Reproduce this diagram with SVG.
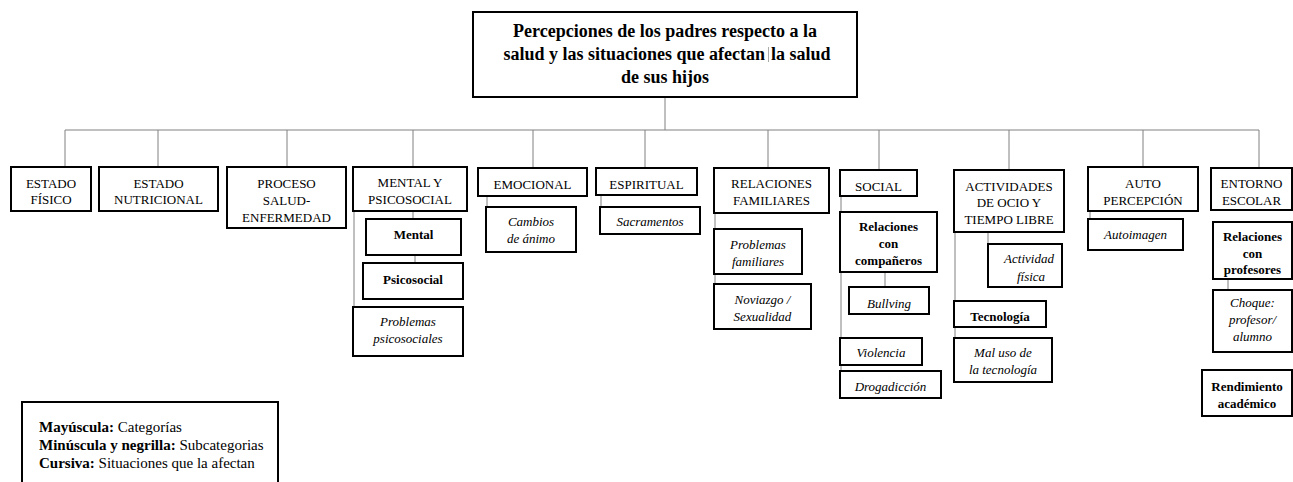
<svg xmlns="http://www.w3.org/2000/svg" width="1293" height="482" viewBox="0 0 1293 482" font-family="Liberation Serif, DejaVu Serif, serif">
<style>
.box{fill:#fff;stroke:#000;stroke-width:2}
.con{stroke:#808080;stroke-width:1;fill:none}
.c,.b,.i,.t,.l{font-family:'Liberation Serif','DejaVu Serif',serif;fill:#000}
.c{font-size:13px;text-anchor:middle}
.b{font-size:13px;text-anchor:middle;font-weight:bold}
.i{font-size:13px;text-anchor:middle;font-style:italic}
.t{font-size:18px;text-anchor:middle;font-weight:bold}
.l{font-size:15px}
</style>
<rect width="1293" height="482" fill="#fff"/>
<g id="connectors">
<line class="con" x1="665" y1="97" x2="665" y2="130"/>
<line class="con" x1="65" y1="130" x2="1259" y2="130"/>
<line class="con" x1="65" y1="130" x2="65" y2="167"/>
<line class="con" x1="158" y1="130" x2="158" y2="167"/>
<line class="con" x1="287" y1="130" x2="287" y2="167"/>
<line class="con" x1="413" y1="130" x2="413" y2="167"/>
<line class="con" x1="533" y1="130" x2="533" y2="168"/>
<line class="con" x1="645" y1="130" x2="645" y2="168"/>
<line class="con" x1="768" y1="130" x2="768" y2="168"/>
<line class="con" x1="879" y1="130" x2="879" y2="170"/>
<line class="con" x1="1009" y1="130" x2="1009" y2="170"/>
<line class="con" x1="1143" y1="130" x2="1143" y2="167"/>
<line class="con" x1="1259" y1="130" x2="1259" y2="168"/>
<line class="con" x1="413" y1="211" x2="413" y2="219"/>
<line class="con" x1="415" y1="255" x2="415" y2="263"/>
<line class="con" x1="354" y1="211" x2="354" y2="307"/>
<line class="con" x1="487" y1="196" x2="487" y2="207"/>
<line class="con" x1="601" y1="195" x2="601" y2="207"/>
<line class="con" x1="715" y1="213" x2="715" y2="284"/>
<line class="con" x1="885" y1="272" x2="885" y2="287"/>
<line class="con" x1="841" y1="196" x2="841" y2="371"/>
<line class="con" x1="988" y1="232" x2="988" y2="244"/>
<line class="con" x1="955" y1="232" x2="955" y2="338"/>
<line class="con" x1="1090" y1="211" x2="1090" y2="219"/>
<line class="con" x1="1228" y1="279" x2="1228" y2="290"/>
</g>
<g id="title">
<rect class="box" x="473" y="12" width="384" height="85"/>
<text class="t" x="665" y="37">Percepciones de los padres respecto a la</text>
<text class="t" x="765" y="60" text-anchor="end" style="text-anchor:end">salud y las situaciones que afectan</text>
<text class="t" x="771" y="60" text-anchor="start" style="text-anchor:start">la salud</text>
<text class="t" x="665" y="83">de sus hijos</text>
<line x1="768.5" y1="47" x2="768.5" y2="62" stroke="#aaa" stroke-width="1"/>
</g>
<g id="estado-fisico">
<rect class="box" x="11" y="167" width="80" height="44"/>
<text class="c" x="51" y="188">ESTADO</text>
<text class="c" x="51" y="204">FÍSICO</text>
</g>
<g id="estado-nutricional">
<rect class="box" x="99" y="167" width="119" height="44"/>
<text class="c" x="158.5" y="188">ESTADO</text>
<text class="c" x="158.5" y="204">NUTRICIONAL</text>
</g>
<g id="proceso">
<rect class="box" x="227" y="167" width="119" height="61"/>
<text class="c" x="286.5" y="188">PROCESO</text>
<text class="c" x="286.5" y="205">SALUD-</text>
<text class="c" x="286.5" y="222">ENFERMEDAD</text>
</g>
<g id="mental-psicosocial">
<rect class="box" x="353" y="167" width="114" height="44"/>
<text class="c" x="410" y="187">MENTAL Y</text>
<text class="c" x="410" y="204">PSICOSOCIAL</text>
</g>
<g id="mental">
<rect class="box" x="366" y="219" width="95" height="36"/>
<text class="b" x="413.5" y="239">Mental</text>
</g>
<g id="psicosocial">
<rect class="box" x="363" y="263" width="100" height="36"/>
<text class="b" x="413" y="284">Psicosocial</text>
</g>
<g id="problemas-psicosociales">
<rect class="box" x="353" y="307" width="110" height="49"/>
<text class="i" x="408" y="326">Problemas</text>
<text class="i" x="408" y="343">psicosociales</text>
</g>
<g id="emocional">
<rect class="box" x="478" y="168" width="109" height="28"/>
<text class="c" x="532.5" y="189">EMOCIONAL</text>
</g>
<g id="cambios">
<rect class="box" x="486" y="207" width="90" height="45"/>
<text class="i" x="531" y="226">Cambios</text>
<text class="i" x="531" y="243">de ánimo</text>
</g>
<g id="espiritual">
<rect class="box" x="596" y="168" width="101" height="27"/>
<text class="c" x="646.5" y="189">ESPIRITUAL</text>
</g>
<g id="sacramentos">
<rect class="box" x="600" y="207" width="100" height="27"/>
<text class="i" x="650" y="226">Sacramentos</text>
</g>
<g id="relaciones-familiares">
<rect class="box" x="714" y="168" width="115" height="45"/>
<text class="c" x="771.5" y="188">RELACIONES</text>
<text class="c" x="771.5" y="205">FAMILIARES</text>
</g>
<g id="problemas-familiares">
<rect class="box" x="714" y="229" width="88" height="45"/>
<text class="i" x="758" y="249">Problemas</text>
<text class="i" x="758" y="266">familiares</text>
</g>
<g id="noviazgo">
<rect class="box" x="714" y="284" width="97" height="45"/>
<text class="i" x="762.5" y="304">Noviazgo /</text>
<text class="i" x="762.5" y="321">Sexualidad</text>
</g>
<g id="social">
<rect class="box" x="840" y="170" width="77" height="26"/>
<text class="c" x="878.5" y="191">SOCIAL</text>
</g>
<g id="relaciones-companeros">
<rect class="box" x="840" y="212" width="97" height="60"/>
<text class="b" x="888.5" y="231">Relaciones</text>
<text class="b" x="888.5" y="248">con</text>
<text class="b" x="888.5" y="265">compañeros</text>
</g>
<g id="bullving">
<rect class="box" x="849" y="287" width="80" height="27"/>
<text class="i" x="889" y="308">Bullving</text>
</g>
<g id="violencia">
<rect class="box" x="840" y="338" width="82" height="27"/>
<text class="i" x="881" y="357">Violencia</text>
</g>
<g id="drogadiccion">
<rect class="box" x="840" y="371" width="101" height="27"/>
<text class="i" x="890.5" y="391">Drogadicción</text>
</g>
<g id="actividades">
<rect class="box" x="954" y="170" width="110" height="62"/>
<text class="c" x="1009" y="191">ACTIVIDADES</text>
<text class="c" x="1009" y="207">DE OCIO Y</text>
<text class="c" x="1009" y="224">TIEMPO LIBRE</text>
</g>
<g id="actividad-fisica">
<rect class="box" x="988" y="244" width="74" height="43"/>
<text class="i" x="1029" y="263">Actividad</text>
<text class="i" x="1031" y="281">física</text>
</g>
<g id="tecnologia">
<rect class="box" x="954" y="301" width="92" height="26"/>
<text class="b" x="1000" y="321">Tecnología</text>
</g>
<g id="mal-uso">
<rect class="box" x="954" y="338" width="98" height="44"/>
<text class="i" x="1003" y="357">Mal uso de</text>
<text class="i" x="1003" y="374">la tecnología</text>
</g>
<g id="autopercepcion">
<rect class="box" x="1088" y="167" width="110" height="44"/>
<text class="c" x="1143" y="188">AUTO</text>
<text class="c" x="1143" y="205">PERCEPCIÓN</text>
</g>
<g id="autoimagen">
<rect class="box" x="1088" y="219" width="95" height="31"/>
<text class="i" x="1135.5" y="239">Autoimagen</text>
</g>
<g id="entorno-escolar">
<rect class="box" x="1211" y="168" width="81" height="42"/>
<text class="c" x="1251.5" y="188">ENTORNO</text>
<text class="c" x="1251.5" y="205">ESCOLAR</text>
</g>
<g id="relaciones-profesores">
<rect class="box" x="1213" y="222" width="79" height="57"/>
<text class="b" x="1252.5" y="241">Relaciones</text>
<text class="b" x="1252.5" y="258">con</text>
<text class="b" x="1252.5" y="274">profesores</text>
</g>
<g id="choque">
<rect class="box" x="1213" y="290" width="79" height="62"/>
<text class="i" x="1252.5" y="307">Choque:</text>
<text class="i" x="1252.5" y="324">profesor/</text>
<text class="i" x="1252.5" y="341">alumno</text>
</g>
<g id="rendimiento">
<rect class="box" x="1202" y="370" width="90" height="46"/>
<text class="b" x="1247" y="391">Rendimiento</text>
<text class="b" x="1247" y="408">académico</text>
</g>
<g id="legend">
<rect class="box" x="22" y="402" width="256" height="90"/>
<text class="l" x="39" y="432"><tspan font-weight="bold">Mayúscula:</tspan> Categorías</text>
<text class="l" x="39" y="450"><tspan font-weight="bold">Minúscula y negrilla:</tspan> Subcategorias</text>
<text class="l" x="39" y="468"><tspan font-weight="bold">Cursiva:</tspan> Situaciones que la afectan</text>
</g>
</svg>
